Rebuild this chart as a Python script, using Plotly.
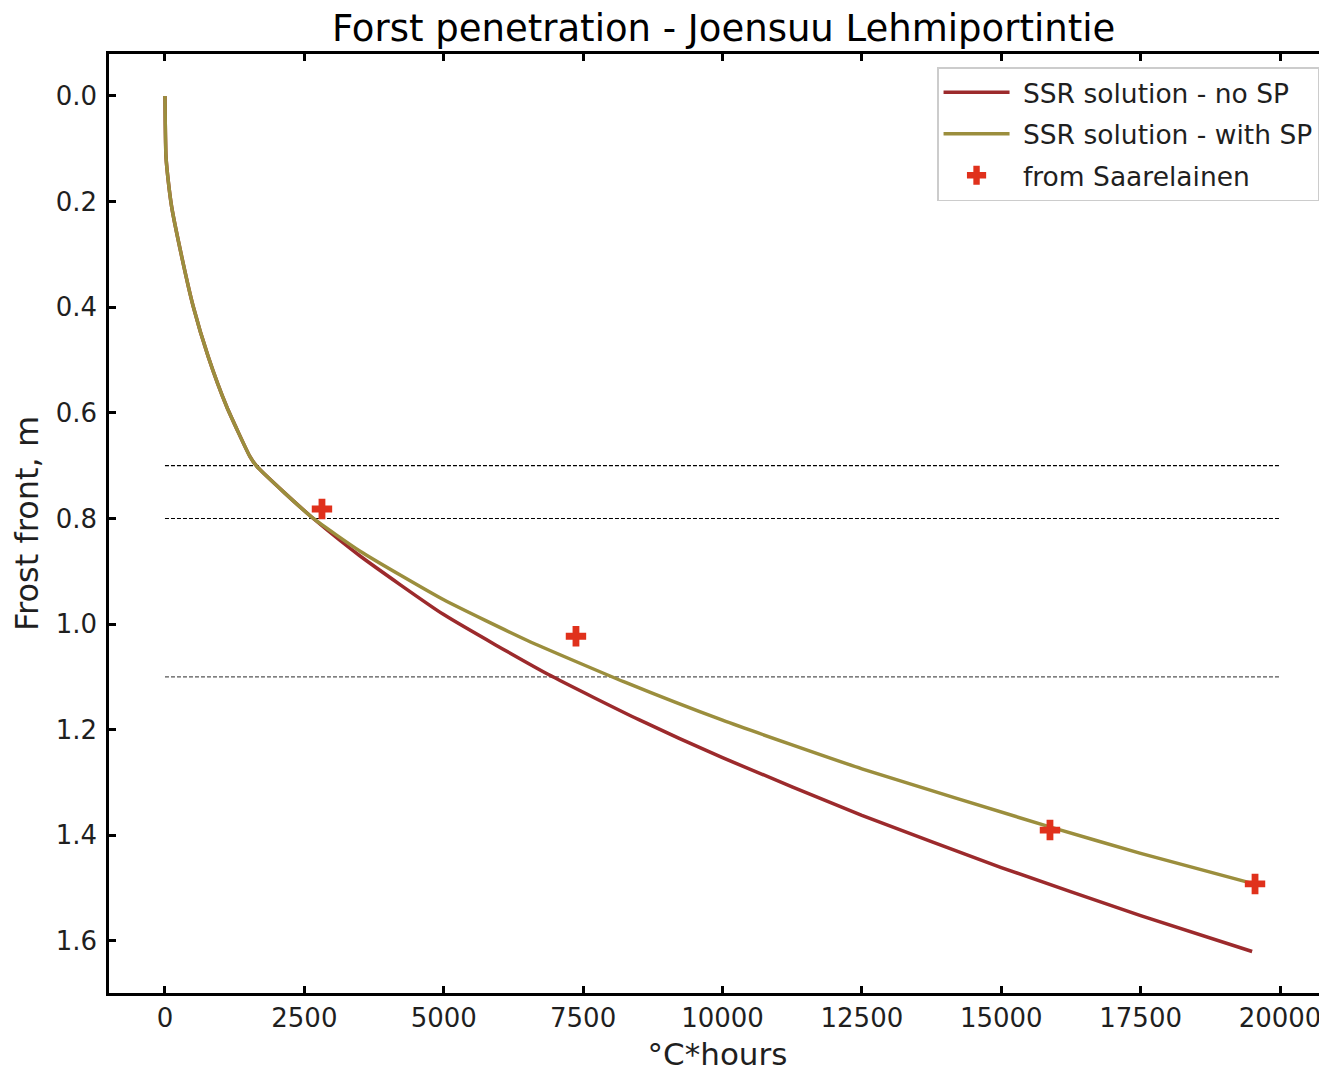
import plotly.graph_objects as go

# --- data ---
x_common = [0, 5, 18, 60, 120, 300, 508, 777, 1106, 1525, 1644, 2150, 2661]
y_common = [0.0, 0.05, 0.115, 0.162, 0.21, 0.304, 0.399, 0.494, 0.588, 0.683, 0.701, 0.752, 0.80]

x_nosp = [2661, 3500, 5000, 6870, 8500, 10000, 12500, 15000, 17500, 19500]
y_nosp = [0.80, 0.871, 0.982, 1.095, 1.181, 1.253, 1.362, 1.461, 1.552, 1.620]

x_sp = [2661, 3500, 5000, 6500, 8250, 10000, 12500, 15900, 17500, 19500]
y_sp = [0.80, 0.862, 0.954, 1.031, 1.110, 1.182, 1.274, 1.385, 1.434, 1.491]

x_obs = [2816, 7372, 15874, 19552]
y_obs = [0.782, 1.023, 1.390, 1.492]

ref_depths = [0.7, 0.8, 1.1]
ref_colors = ["black", "black", "#555555"]
ref_x = [0, 20000]

title = "Forst penetration - Joensuu Lehmiportintie"
x_title = "°C*hours"
y_title = "Frost front, m"
x_ticks = [0, 2500, 5000, 7500, 10000, 12500, 15000, 17500, 20000]
y_ticks = [0.0, 0.2, 0.4, 0.6, 0.8, 1.0, 1.2, 1.4, 1.6]

RED = "#9c2a2c"
OLIVE = "#9b8e3d"
MARK = "#e0311c"
FONT = "DejaVu Sans"
TXT = "#1f1f1f"
PAD = "\u00a0"

fig = go.Figure()

for d, c in zip(ref_depths, ref_colors):
    fig.add_trace(go.Scatter(x=ref_x, y=[d, d], mode="lines",
                             line=dict(color=c, width=1.1, dash="4px,2px"),
                             showlegend=False, hoverinfo="skip"))

fig.add_trace(go.Scatter(x=x_common + x_nosp[1:], y=y_common + y_nosp[1:], mode="lines",
                         line=dict(color=RED, width=3.5, shape="spline", smoothing=0.5),
                         name=PAD + "SSR solution - no SP", legendgroup="a"))
fig.add_trace(go.Scatter(x=x_common + x_sp[1:], y=y_common + y_sp[1:], mode="lines",
                         line=dict(color=OLIVE, width=3.5, shape="spline", smoothing=0.5),
                         name=PAD + "SSR solution - with SP", legendgroup="b"))
fig.add_trace(go.Scatter(x=x_obs, y=y_obs, mode="markers",
                         marker=dict(symbol="cross", size=17, color=MARK, line=dict(width=0)),
                         name=PAD + "from Saarelainen", legendgroup="c"))

axis_common = dict(showline=True, linecolor="black", linewidth=2.5, mirror="allticks",
                   ticks="inside", ticklen=7, tickwidth=2.5, tickcolor="black",
                   showgrid=False, zeroline=False, automargin=False,
                   tickfont=dict(family=FONT, size=26, color=TXT))

fig.update_xaxes(range=[-1004, 20825], tickvals=x_ticks, ticktext=[str(v) for v in x_ticks],
                 title=dict(text=x_title, font=dict(family=FONT, size=31, color=TXT), standoff=14),
                 **axis_common)
fig.update_yaxes(range=[1.6985, -0.0795], tickvals=y_ticks, ticktext=[f"{v:.1f}" for v in y_ticks],
                 ticklabelstandoff=4,
                 title=dict(text=y_title, font=dict(family=FONT, size=32, color=TXT), standoff=10),
                 **axis_common)

# page body adds an 8px offset, so the figure is 8px smaller and margins shifted
fig.update_layout(
    width=1319, height=1064,
    margin=dict(l=101, r=1, t=46, b=79, autoexpand=False),
    paper_bgcolor="white", plot_bgcolor="white",
    title=dict(text=title, x=0.5425, xanchor="center", y=0.9815, yanchor="middle",
               font=dict(family=FONT, size=37, color="black"), automargin=False),
    legend=dict(x=0.6804, xanchor="left", y=0.986, yanchor="top",
                bgcolor="white", bordercolor="#cccccc", borderwidth=1.5,
                font=dict(family=FONT, size=26.5, color=TXT),
                tracegroupgap=4, itemwidth=66),
    font=dict(family=FONT),
)

fig.write_html("out.html")
